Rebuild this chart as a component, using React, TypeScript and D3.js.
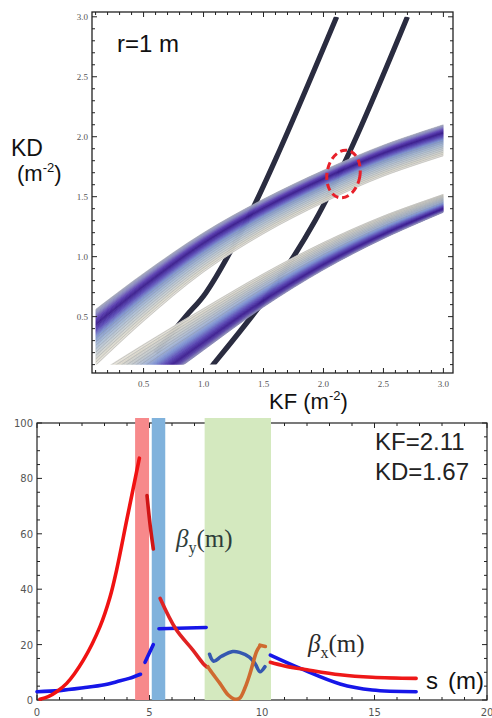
import React from "react";
import * as d3 from "d3";

// ---------------- Top plot data (KF, KD in m^-2) ----------------
const kfSamples = [0.1, 0.5, 1.0, 1.5, 2.0, 2.5, 3.0];
const upperBandTop = [0.56, 0.86, 1.2, 1.48, 1.72, 1.93, 2.1];
const upperBandWidth = [0.47, 0.4, 0.33, 0.29, 0.27, 0.26, 0.26];
const lowerBandTop = [0.02, 0.27, 0.57, 0.86, 1.12, 1.34, 1.52];
const lowerBandBottom = [-0.55, -0.16, 0.22, 0.58, 0.89, 1.15, 1.37];

const lineAKF = [2.11, 1.64, 1.36, 1.02, 0.85, 0.6];
const lineAKD = [3.0, 1.9, 1.3, 0.7, 0.5, 0.2];
const lineBKF = [2.7, 2.23, 1.93, 1.55, 1.08, 1.03];
const lineBKD = [3.0, 1.9, 1.3, 0.7, 0.1, 0.04];

const markerKF = 2.167;
const markerKD = 1.689;

const topMajor = [0.5, 1.0, 1.5, 2.0, 2.5, 3.0];
const topMajorLabels = ["0.5", "1.0", "1.5", "2.0", "2.5", "3.0"];

// ---------------- Bottom plot data (s in m, beta in m) ----------------
const bxSeg1S = [0.13, 0.5, 0.87, 1.32, 2.06, 2.8, 3.24, 3.54, 3.99, 4.55];
const bxSeg1V = [0.3, 1.2, 3.0, 6.0, 14.4, 26.5, 37, 47, 65, 87.3];
const bxSeg2S = [4.89, 5.03, 5.17];
const bxSeg2V = [73.8, 63, 54.5];
const bxSeg3S = [5.47, 6.17, 6.93, 7.38, 7.54];
const bxSeg3V = [36.7, 25.6, 18, 13.2, 12];
const bxQuadS = [7.6, 7.69, 8.13, 8.5, 8.75, 9.0, 9.25, 9.47, 9.76, 9.91];
const bxQuadV = [12, 10.8, 6, 1.8, 0.4, 0.6, 4.5, 9.6, 17.5, 19.6];
const bxHookS = [9.91, 10.15];
const bxHookV = [19.8, 19.3];
const bxSeg4S = [10.37, 11.0, 12.0, 13.47, 14.9, 16.85];
const bxSeg4V = [13.6, 12.3, 10.9, 9.1, 8.2, 7.8];

const bySeg1S = [0.0, 1.0, 2.06, 3.0, 3.54, 4.1, 4.6];
const bySeg1V = [3.0, 3.4, 4.4, 5.5, 6.6, 7.8, 9.3];
const bySeg2S = [4.8, 5.17];
const bySeg2V = [13.6, 20];
const bySeg3S = [5.42, 7.52];
const bySeg3V = [25.7, 26.2];
const byQuadS = [7.67, 7.85, 8.2, 8.7, 9.0, 9.44, 9.7, 9.91, 10.13];
const byQuadV = [16.5, 14, 15.8, 17.5, 17.2, 15.5, 13, 10.2, 12];
const bySeg4S = [10.37, 11.7, 13.47, 14.9, 16.85];
const bySeg4V = [16.2, 11.4, 5.8, 3.6, 3.0];

const magnetNames = ["QF", "QD", "Q"];
const magnetStart = [4.36, 5.1, 7.45];
const magnetEnd = [4.98, 5.7, 10.4];
const magnetColors = ["#f7898b", "#80b2dc", "#d4e9bf"];

const sTicks = [0, 5, 10, 15, 20];
const betaTicks = [0, 20, 40, 60, 80, 100];

// ---------------- Scales ----------------
const xT = d3.scaleLinear().domain([0.07, 3.08]).range([92, 453]);
const yT = d3.scaleLinear().domain([0.03, 3.04]).range([373, 12]);
const xB = d3.scaleLinear().domain([0, 20]).range([37, 487]);
const yB = d3.scaleLinear().domain([0, 100]).range([700, 423]);

const upperColor = d3
  .scaleLinear<string>()
  .domain([0, 0.08, 0.18, 0.27, 0.38, 0.5, 0.65, 0.8, 0.92, 1])
  .range(["#a7abb8", "#8c8cc2", "#5a3fb2", "#3c1f8e", "#5c4cb8", "#8096cf", "#a9bcd6", "#c8cfd3", "#dcd9cd", "#ebe8df"])
  .interpolate(d3.interpolateRgb);

const lowerColor = d3
  .scaleLinear<string>()
  .domain([0, 0.1, 0.25, 0.4, 0.55, 0.7, 0.82, 0.92, 1])
  .range(["#ebe8df", "#d9d6cb", "#c2c8cd", "#a6b6d5", "#7c8fd0", "#5a46b4", "#3e1f90", "#5d4aa9", "#8e90b8"])
  .interpolate(d3.interpolateRgb);

function bandStrips(
  topArr: number[],
  botArr: number[],
  color: (t: number) => string,
  n: number
) {
  const strips: { d: string; c: string }[] = [];
  for (let i = 0; i < n; i++) {
    const t0 = i / n;
    const t1 = (i + 1) / n;
    const area = d3
      .area<number>()
      .x((_, j) => xT(kfSamples[j]))
      .y0((_, j) => yT(topArr[j] + t0 * (botArr[j] - topArr[j])))
      .y1((_, j) => yT(topArr[j] + t1 * (botArr[j] - topArr[j])))
      .curve(d3.curveCatmullRom);
    strips.push({ d: area(kfSamples) || "", c: color((t0 + t1) / 2) });
  }
  return strips;
}

function bandLine(topArr: number[], botArr: number[], t: number) {
  const line = d3
    .line<number>()
    .x((_, j) => xT(kfSamples[j]))
    .y((_, j) => yT(topArr[j] + t * (botArr[j] - topArr[j])))
    .curve(d3.curveCatmullRom);
  return line(kfSamples) || "";
}

function pathT(kf: number[], kd: number[]) {
  const line = d3
    .line<number>()
    .x((_, i) => xT(kf[i]))
    .y((_, i) => yT(kd[i]))
    .curve(d3.curveCatmullRom);
  return line(kf) || "";
}

function pathB(s: number[], v: number[]) {
  const line = d3
    .line<number>()
    .x((_, i) => xB(s[i]))
    .y((_, i) => yB(v[i]))
    .curve(d3.curveCatmullRom);
  return line(s) || "";
}

export default function App() {
  const upperBottom = upperBandTop.map((v, i) => v - upperBandWidth[i]);
  const upperStrips = bandStrips(upperBandTop, upperBottom, upperColor, 50);
  const lowerStrips = bandStrips(lowerBandTop, lowerBandBottom, lowerColor, 50);
  const upperContours = [0.52, 0.58, 0.64, 0.7, 0.76, 0.82, 0.88, 0.94, 0.99];
  const lowerContours = [0.01, 0.06, 0.12, 0.18, 0.24, 0.3, 0.36, 0.44];

  const minorT = d3.range(1, 31).map((k) => k / 10);
  const minorS = d3.range(0, 21);
  const minorBeta = d3.range(0, 101, 5);

  const tx0 = xT.range()[0], tx1 = xT.range()[1];
  const ty0 = yT.range()[1], ty1 = yT.range()[0];
  const bx0 = xB.range()[0], bx1 = xB.range()[1];
  const by0 = yB.range()[1], by1 = yB.range()[0];

  const tickFontT = { fontFamily: "'Liberation Serif', serif", fontSize: 9, fill: "#555" };
  const tickFontB = { fontFamily: "'DejaVu Sans', sans-serif", fontSize: 10, fill: "#555" };

  return (
    <svg
      width={492}
      height={718}
      style={{ position: "absolute", left: 0, top: 0, background: "#fff" }}
      xmlns="http://www.w3.org/2000/svg"
    >
      <defs>
        <clipPath id="dataClip">
          <rect x={xT(0.1)} y={yT(3.0)} width={xT(3.0) - xT(0.1)} height={yT(0.1) - yT(3.0)} />
        </clipPath>
      </defs>
      <rect x={0} y={0} width={492} height={718} fill="#fff" />

      {/* ================= TOP PLOT ================= */}
      <g clipPath="url(#dataClip)">
        <path d={pathT(lineAKF, lineAKD)} fill="none" stroke="#2a2c40" strokeWidth={5.2} />
        <path d={pathT(lineBKF, lineBKD)} fill="none" stroke="#2a2c40" strokeWidth={5.2} />
        {upperStrips.map((s, i) => (
          <path key={"u" + i} d={s.d} fill={s.c} stroke={s.c} strokeWidth={0.6} />
        ))}
        {upperContours.map((t, i) => (
          <path key={"uc" + i} d={bandLine(upperBandTop, upperBottom, t)} fill="none" stroke="#8a8f98" strokeWidth={0.5} opacity={0.7} />
        ))}
        {lowerStrips.map((s, i) => (
          <path key={"l" + i} d={s.d} fill={s.c} stroke={s.c} strokeWidth={0.6} />
        ))}
        {lowerContours.map((t, i) => (
          <path key={"lc" + i} d={bandLine(lowerBandTop, lowerBandBottom, t)} fill="none" stroke="#8a8f98" strokeWidth={0.5} opacity={0.7} />
        ))}
      </g>

      {/* frame */}
      <rect x={tx0} y={ty0} width={tx1 - tx0} height={ty1 - ty0} fill="none" stroke="#222" strokeWidth={1.3} />
      {minorT.map((v) => {
        const major = topMajor.some((m) => Math.abs(m - v) < 1e-6);
        const L = major ? 5 : 3;
        return (
          <g key={"tt" + v} stroke="#222" strokeWidth={1}>
            <line x1={xT(v)} x2={xT(v)} y1={ty1} y2={ty1 - L} />
            <line x1={xT(v)} x2={xT(v)} y1={ty0} y2={ty0 + L} />
            <line x1={tx0} x2={tx0 + L} y1={yT(v)} y2={yT(v)} />
            <line x1={tx1} x2={tx1 - L} y1={yT(v)} y2={yT(v)} />
          </g>
        );
      })}
      {topMajor.map((v, i) => (
        <g key={"tl" + v}>
          <text x={xT(v)} y={ty1 + 14} textAnchor="middle" {...tickFontT}>{topMajorLabels[i]}</text>
          <text x={tx0 - 4} y={yT(v) + 3} textAnchor="end" {...tickFontT}>{topMajorLabels[i]}</text>
        </g>
      ))}

      <ellipse
        cx={xT(markerKF)}
        cy={yT(markerKD)}
        rx={16.5}
        ry={24}
        fill="none"
        stroke="#e8202a"
        strokeWidth={3}
        strokeDasharray="7 4"
        transform={`rotate(10 ${xT(markerKF)} ${yT(markerKD)})`}
      />

      <text x={117} y={52} fontFamily="'Liberation Sans', Arial, sans-serif" fontSize={24} fill="#111">r=1 m</text>
      <text x={11} y={156} fontFamily="'Liberation Sans', Arial, sans-serif" fontSize={23} fill="#111">KD</text>
      <text x={17} y={181} fontFamily="'Liberation Sans', Arial, sans-serif" fontSize={22} fill="#111">
        (m<tspan fontSize={13} dy={-9}>-2</tspan><tspan dy={9}>)</tspan>
      </text>
      <text x={269} y={409} fontFamily="'Liberation Sans', Arial, sans-serif" fontSize={22} fill="#111">
        KF (m<tspan fontSize={13} dy={-9}>-2</tspan><tspan dy={9}>)</tspan>
      </text>

      {/* ================= BOTTOM PLOT ================= */}
      <rect x={bx0} y={by0} width={bx1 - bx0} height={by1 - by0} fill="none" stroke="#222" strokeWidth={1.2} />
      {minorS.map((v) => {
        const L = v % 5 === 0 ? 5 : 3;
        return (
          <g key={"bs" + v} stroke="#222" strokeWidth={1}>
            <line x1={xB(v)} x2={xB(v)} y1={by1} y2={by1 - L} />
            <line x1={xB(v)} x2={xB(v)} y1={by0} y2={by0 + L} />
          </g>
        );
      })}
      {minorBeta.map((v) => {
        const L = v % 20 === 0 ? 5 : 3;
        return (
          <g key={"bb" + v} stroke="#222" strokeWidth={1}>
            <line x1={bx0} x2={bx0 + L} y1={yB(v)} y2={yB(v)} />
            <line x1={bx1} x2={bx1 - L} y1={yB(v)} y2={yB(v)} />
          </g>
        );
      })}
      {sTicks.map((v) => (
        <text key={"sl" + v} x={xB(v)} y={by1 + 16} textAnchor="middle" {...tickFontB}>{v}</text>
      ))}
      {betaTicks.map((v) => (
        <text key={"yl" + v} x={bx0 - 4} y={yB(v) + 4} textAnchor="end" {...tickFontB}>{v}</text>
      ))}

      {magnetNames.map((n, i) => (
        <rect
          key={n + i}
          x={xB(magnetStart[i])}
          y={yB(100) - 5}
          width={xB(magnetEnd[i]) - xB(magnetStart[i])}
          height={yB(0) - yB(100) + 5}
          fill={magnetColors[i]}
        />
      ))}

      <g fill="none" strokeWidth={3.6} strokeLinecap="round">
        <path d={pathB(bySeg1S, bySeg1V)} stroke="#1616e8" />
        <path d={pathB(bySeg2S, bySeg2V)} stroke="#1616e8" />
        <path d={pathB(bySeg3S, bySeg3V)} stroke="#1616e8" />
        <path d={pathB(bySeg4S, bySeg4V)} stroke="#1616e8" />
        <path d={pathB(bxSeg1S, bxSeg1V)} stroke="#f01212" />
        <path d={pathB(bxSeg2S, bxSeg2V)} stroke="#d01515" />
        <path d={pathB(bxSeg3S, bxSeg3V)} stroke="#e02222" />
        <path d={pathB(bxSeg4S, bxSeg4V)} stroke="#ee1818" />
        <path d={pathB(byQuadS, byQuadV)} stroke="#3558b0" />
        <path d={pathB(bxQuadS, bxQuadV)} stroke="#cf6a30" />
        <path d={pathB(bxHookS, bxHookV)} stroke="#cf6a30" />
      </g>

      <text x={375} y={450} fontFamily="'Liberation Sans', Arial, sans-serif" fontSize={24} fill="#222">KF=2.11</text>
      <text x={375} y={480} fontFamily="'Liberation Sans', Arial, sans-serif" fontSize={24} fill="#222">KD=1.67</text>

      <text x={176} y={547} fontFamily="'Liberation Serif', serif" fontSize={25} fill="#2e3d3a">
        <tspan fontStyle="italic">β</tspan>
        <tspan fontSize={16} dy={6}>y</tspan>
        <tspan dy={-6}>(m)</tspan>
      </text>
      <text x={308} y={652} fontFamily="'Liberation Serif', serif" fontSize={25} fill="#2a2a2a">
        <tspan fontStyle="italic">β</tspan>
        <tspan fontSize={16} dy={6}>x</tspan>
        <tspan dy={-6}>(m)</tspan>
      </text>
      <text x={426} y={689} fontFamily="'Liberation Sans', Arial, sans-serif" fontSize={24} fill="#111">
        s<tspan dx={10}>(m)</tspan>
      </text>
    </svg>
  );
}
